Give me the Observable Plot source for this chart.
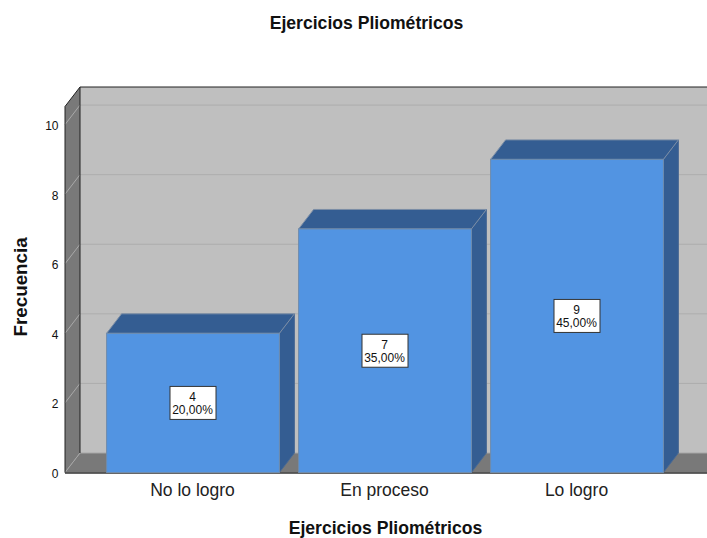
<!DOCTYPE html>
<html>
<head>
<meta charset="utf-8">
<script src="https://cdn.jsdelivr.net/npm/d3@7"></script>
<script src="https://cdn.jsdelivr.net/npm/@observablehq/plot@0.6"></script>
<style>
html,body{margin:0;padding:0;background:#fff;width:707px;height:538px;overflow:hidden}
#title{height:46px;box-sizing:border-box;padding-left:26px;text-align:center;font:bold 17.6px/46px "Liberation Sans",Arial,sans-serif;color:#111}
svg{display:block}
</style>
</head>
<body>
<div id="title">Ejercicios Pliométricos</div>
<div id="chart"></div>
<script>
const categories = ["No lo logro", "En proceso", "Lo logro"];
const counts = [4, 7, 9];
const percents = ["20,00%", "35,00%", "45,00%"];
const yTicks = [0, 2, 4, 6, 8, 10];
const yMax = 10.52;
const axisTitle = "Ejercicios Pliométricos";
const yTitle = "Frecuencia";

const rows = categories.map((c, i) => ({c, n: counts[i], p: percents[i]}));
const DX = 15, DY = -19.5, FONT = '"Liberation Sans",Arial,sans-serif';

function polygon(svgNode, pts, fill, stroke) {
  const p = document.createElementNS("http://www.w3.org/2000/svg", "polygon");
  p.setAttribute("points", pts.map(d => d.join(",")).join(" "));
  p.setAttribute("fill", fill);
  if (stroke) { p.setAttribute("stroke", stroke); p.setAttribute("stroke-width", 1); }
  svgNode.appendChild(p);
}
function seg(svgNode, a, b, stroke, w = 1) {
  const l = document.createElementNS("http://www.w3.org/2000/svg", "line");
  l.setAttribute("x1", a[0]); l.setAttribute("y1", a[1]);
  l.setAttribute("x2", b[0]); l.setAttribute("y2", b[1]);
  l.setAttribute("stroke", stroke); l.setAttribute("stroke-width", w);
  svgNode.appendChild(l);
}
function group() { return document.createElementNS("http://www.w3.org/2000/svg", "g"); }

// Back wall, side wall, floor and grid, all placed from the y scale.
function walls(index, scales, values, dim) {
  const g = group(), y = scales.y;
  const L = dim.marginLeft, R = dim.width + 20;
  const y0 = y(0), yT = y(yMax);
  polygon(g, [[L + DX, yT + DY], [R, yT + DY], [R, y0 + DY], [L + DX, y0 + DY]], "#bfbfbf");
  polygon(g, [[L, yT], [L + DX, yT + DY], [L + DX, y0 + DY], [L, y0]], "#797979");
  polygon(g, [[L, y0], [L + DX, y0 + DY], [R, y0 + DY], [R - 17, y0]], "#797979");
  for (const t of yTicks.slice(1)) {
    seg(g, [L, y(t)], [L + DX, y(t) + DY], "#a9a9a9");
    seg(g, [L + DX, y(t) + DY], [R, y(t) + DY], "#adadad");
  }
  seg(g, [L + DX, y0 + DY], [R, y0 + DY], "#a6a6a6");
  seg(g, [L, y0], [L + DX, y0 + DY], "#a6a6a6");
  seg(g, [L, yT], [L, y0], "#222");
  seg(g, [L + DX, yT + DY], [L + DX, y0 + DY], "#222");
  seg(g, [L, yT], [L + DX, yT + DY], "#222");
  seg(g, [L + DX, yT + DY], [R, yT + DY], "#222");
  seg(g, [L, y0 + 0.5], [R - 17, y0 + 0.5], "#333", 1.5);
  return g;
}

// Top and side faces of each bar.
function faces(index, scales) {
  const g = group(), {x, y} = scales, w = x.bandwidth();
  for (const r of rows) {
    const a = x(r.c), b = a + w, t = y(r.n), y0 = y(0);
    polygon(g, [[b, t], [b + DX, t + DY], [b + DX, y0 + DY], [b, y0]], "#345d92", "#4a6a94");
    polygon(g, [[a, t], [a + DX, t + DY], [b + DX, t + DY], [b, t]], "#345d92", "#7c8ea6");
  }
  return g;
}

// White label boxes, centred on the bar's mid height.
function boxes(index, scales) {
  const g = group(), {x, y} = scales, w = x.bandwidth();
  for (const r of rows) {
    const cx = x(r.c) + w / 2, cy = y(r.n / 2);
    const e = document.createElementNS("http://www.w3.org/2000/svg", "rect");
    e.setAttribute("x", cx - 23); e.setAttribute("y", cy - 16.5);
    e.setAttribute("width", 46); e.setAttribute("height", 33);
    e.setAttribute("fill", "#fff"); e.setAttribute("stroke", "#333"); e.setAttribute("stroke-width", 1);
    g.appendChild(e);
  }
  return g;
}

const chart = Plot.plot({
  width: 707, height: 492,
  marginLeft: 65, marginRight: 0, marginTop: 41.5, marginBottom: 65.5,
  style: {fontFamily: FONT, background: "transparent", color: "#222"},
  x: {domain: categories, range: [97, 673], paddingInner: 0.1, paddingOuter: 0.05, round: false, axis: null},
  y: {domain: [0, yMax], range: [426.5, 60.5], axis: null},
  marks: [
    walls,
    faces,
    Plot.barY(rows, {x: "c", y1: 0, y2: "n", fill: "#5294e2", stroke: "#6f8cad", strokeWidth: 1}),
    Plot.axisY({ticks: yTicks, tickSize: 0, tickPadding: 7, fontSize: 12, label: null, fill: "#111", dy: 1}),
    Plot.axisX({tickSize: 0, tickPadding: 10.5, fontSize: 17.5, label: null, fill: "#222", dx: -1}),
    boxes,
    Plot.text(rows, {x: "c", y: d => d.n / 2, text: d => d.n + "\n" + d.p, fontSize: 12, lineHeight: 1.08, fill: "#111", dx: -1}),
    Plot.text([axisTitle], {frameAnchor: "bottom", dx: -1, dy: 60.5, fontSize: 17.6, fontWeight: "bold", fill: "#111"}),
    Plot.text([yTitle], {frameAnchor: "left", dx: -45, dy: 56, rotate: -90, fontSize: 18.8, fontWeight: "bold", fill: "#111"})
  ]
});
document.getElementById("chart").appendChild(chart);
</script>
</body>
</html>
